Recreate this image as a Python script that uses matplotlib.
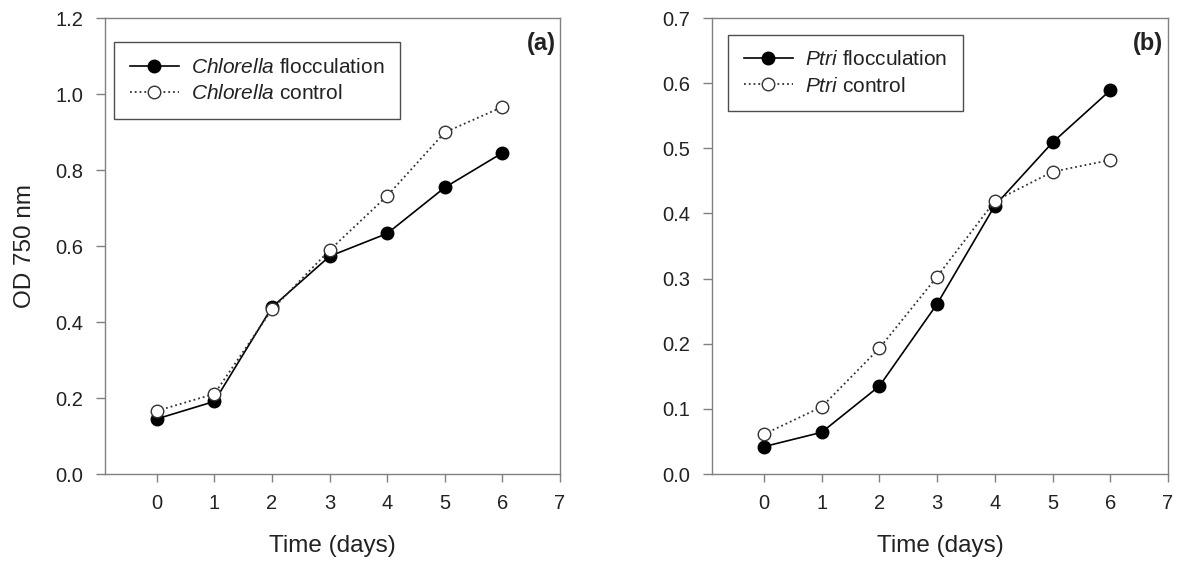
import numpy as np
import matplotlib
matplotlib.use('Agg')
import matplotlib.pyplot as plt
from matplotlib.ticker import FormatStrFormatter

plt.rcParams['font.family'] = ['Liberation Sans', 'DejaVu Sans']
plt.rcParams['mathtext.fontset'] = 'custom'
plt.rcParams['mathtext.rm'] = 'Liberation Sans'
plt.rcParams['mathtext.it'] = 'Liberation Sans:italic'

# Data
days = [0, 1, 2, 3, 4, 5, 6]
chlorella_floc = [0.145, 0.191, 0.439, 0.573, 0.633, 0.754, 0.845]
chlorella_ctrl = [0.166, 0.211, 0.433, 0.589, 0.732, 0.899, 0.966]
ptri_floc = [0.042, 0.064, 0.135, 0.261, 0.412, 0.509, 0.589]
ptri_ctrl = [0.061, 0.103, 0.193, 0.303, 0.419, 0.464, 0.482]

spine_col = '#808080'

fig = plt.figure(figsize=(11.81, 5.70), dpi=100)
ax1 = fig.add_axes([105/1181, 1-474/570, 455/1181, 456/570])
ax2 = fig.add_axes([712/1181, 1-474/570, 456/1181, 456/570])


def draw(ax, floc, ctrl, name, ymax, ystep, letter, legend_xy):
    ax.plot(days, floc, '-', color='black', lw=1.2, marker='o', ms=9,
            mfc='black', mec='black', label=r'$\it{' + name + '}$ flocculation')
    ax.plot(days, ctrl, ':', color='#333333', lw=1.3, marker='o', ms=9,
            mfc='white', mec='#333333', mew=1.0, label=r'$\it{' + name + '}$ control')
    ax.set_xlim(-0.9, 7)
    ax.set_ylim(0, ymax)
    ax.set_xticks(range(0, 8))
    ax.set_yticks(np.arange(0, ymax + 1e-9, ystep))
    ax.yaxis.set_major_formatter(FormatStrFormatter('%.1f'))
    for s in ax.spines.values():
        s.set_color(spine_col)
        s.set_linewidth(1.0)
    ax.tick_params(axis='both', direction='out', color=spine_col, width=1.0,
                   labelsize=14.5, labelcolor='#222222')
    ax.tick_params(axis='y', length=6.5, pad=9)
    ax.tick_params(axis='x', length=5.5, pad=9)
    ax.set_xlabel('Time (days)', fontsize=17.5, labelpad=16, color='#222222')
    ax.text(0.99, 0.945, letter, transform=ax.transAxes, ha='right', va='center',
            fontsize=17, fontweight='bold', color='#222222')
    leg = ax.legend(loc='upper left', bbox_to_anchor=legend_xy, fontsize=15,
                    frameon=True, fancybox=False, handlelength=2.35,
                    handletextpad=0.6, borderpad=0.75, labelspacing=0.35,
                    borderaxespad=0)
    leg.get_frame().set_edgecolor('#222222')
    leg.get_frame().set_linewidth(1.0)
    for t in leg.get_texts():
        t.set_color('#222222')


draw(ax1, chlorella_floc, chlorella_ctrl, 'Chlorella', 1.2, 0.2, '(a)', (0.02, 0.947))
draw(ax2, ptri_floc, ptri_ctrl, 'Ptri', 0.7, 0.1, '(b)', (0.035, 0.963))
ax1.set_ylabel('OD 750 nm', fontsize=17.5, labelpad=14, color='#222222')

fig.savefig('out.png', dpi=100)
